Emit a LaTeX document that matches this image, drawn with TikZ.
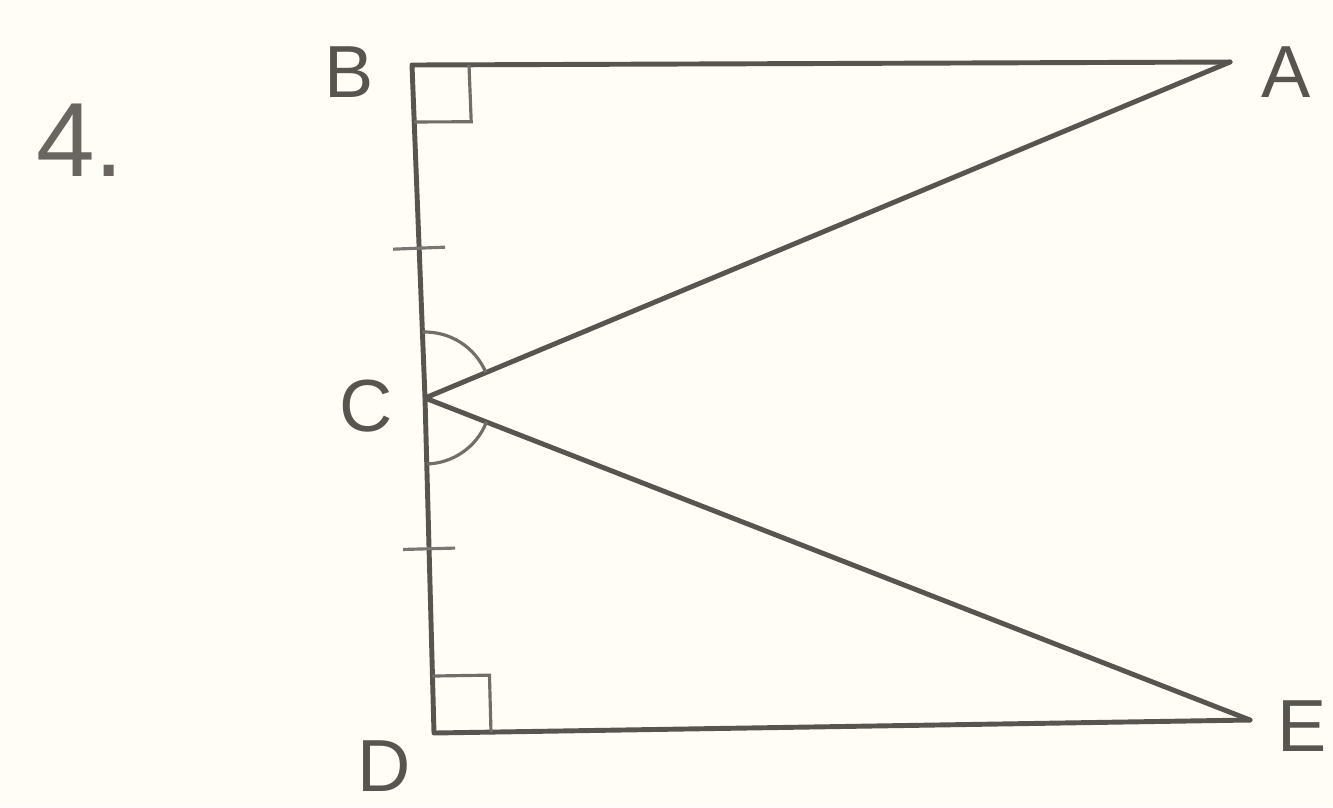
\documentclass[tikz,border=0pt]{standalone}
\usepackage{fontspec}
\setmainfont{Liberation Sans}
\usepackage{tikz}
\usetikzlibrary{calc,angles}
\definecolor{pen}{RGB}{88,84,80}
\definecolor{paper}{RGB}{255,253,246}
\tikzset{
  edge/.style={draw=pen, line width=1.4pt, line cap=round, line join=round},
  tick/.style={draw=pen!80, line width=0.9pt},
  anglemark/.style={draw=pen!85, line width=0.9pt},
  ptlabel/.style={text=pen, font=\fontsize{21}{21}\selectfont, inner sep=0pt},
  numlabel/.style={text=pen!90, font=\fontsize{30}{30}\selectfont, inner sep=0pt}
}

\begin{document}
\begin{tikzpicture}[x=1cm,y=1cm]
    \fill[paper] (0,0) rectangle (13.33,-8.07);
    \useasboundingbox (0,0) rectangle (13.33,-8.07);

    \coordinate (B) at (4.12,-0.65);
    \coordinate (A) at (12.30,-0.62);
    \coordinate (C) at (4.25,-3.98);
    \coordinate (D) at (4.34,-7.33);
    \coordinate (E) at (12.50,-7.20);

    \node[numlabel] (num) at (0.80,-1.40) {4.};
    \node[ptlabel] (lB) at (3.49,-0.72) {B};
    \node[ptlabel] (lA) at (12.86,-0.72) {A};
    \node[ptlabel] (lC) at (3.66,-4.06) {C};
    \node[ptlabel] (lD) at (3.84,-7.66) {D};
    \node[ptlabel] (lE) at (13.02,-7.26) {E};

    \draw[edge] (A) -- (B) -- (C) -- (D) -- (E);
    \draw[edge] (A) -- (C) -- (E);

    \pic[anglemark, angle radius=5.7mm] {right angle=A--B--C};
    \pic[anglemark, angle radius=5.7mm] {right angle=C--D--E};
    \pic[anglemark, angle radius=6.6mm] {angle=A--C--B};
    \pic[anglemark, angle radius=6.6mm] {angle=D--C--E};

    \coordinate (t1) at ($(B)!0.55!(C)$);
    \coordinate (t2) at ($(C)!0.45!(D)$);
    \draw[tick] ($(t1)!0.26cm!90:(B)$) -- ($(t1)!0.26cm!-90:(B)$);
    \draw[tick] ($(t2)!0.26cm!90:(C)$) -- ($(t2)!0.26cm!-90:(C)$);
  \end{tikzpicture}
\end{document}
